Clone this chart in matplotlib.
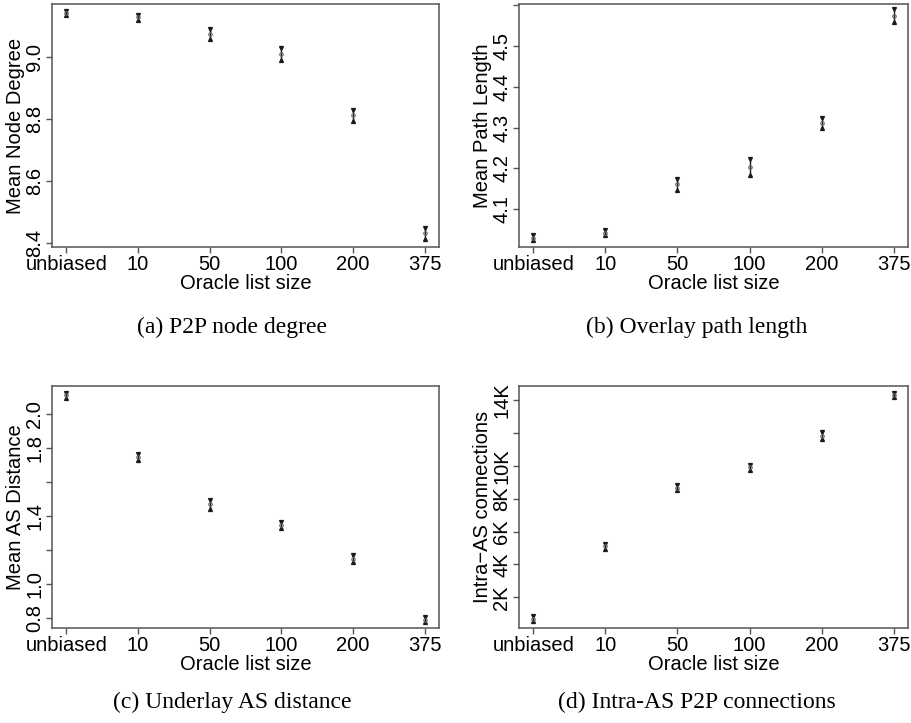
import matplotlib
matplotlib.use("Agg")
import matplotlib.pyplot as plt

plt.rcParams['font.family'] = ['Liberation Sans', 'DejaVu Sans']

x_labels = ['unbiased', '10', '50', '100', '200', '375']

degree_mean = [9.139, 9.126, 9.073, 9.008, 8.811, 8.432]
degree_err = [0.006, 0.009, 0.015, 0.018, 0.018, 0.018]

path_mean = [4.030, 4.043, 4.161, 4.204, 4.312, 4.574]
path_err = [0.006, 0.007, 0.014, 0.020, 0.012, 0.016]

asdist_mean = [2.112, 1.748, 1.469, 1.349, 1.148, 0.789]
asdist_err = [0.016, 0.016, 0.027, 0.018, 0.020, 0.012]

intra_mean = [702, 5107, 8659, 9900, 11826, 14306]
intra_err = [150, 150, 160, 150, 200, 150]

degree_ticks = [8.4, 8.6, 8.8, 9.0]
degree_ticklabels = ['8.4', '8.6', '8.8', '9.0']
path_ticks = [4.1, 4.2, 4.3, 4.4, 4.5, 4.6]
path_ticklabels = ['4.1', '4.2', '4.3', '4.4', '4.5', '']
asdist_ticks = [0.8, 1.0, 1.2, 1.4, 1.6, 1.8, 2.0]
asdist_ticklabels = ['0.8', '1.0', '', '1.4', '', '1.8', '2.0']
intra_ticks = [2000, 4000, 6000, 8000, 10000, 12000, 14000]
intra_ticklabels = ['2K', '4K', '6K', '8K', '10K', '', '14K']

captions = ['(a) P2P node degree', '(b) Overlay path length',
            '(c) Underlay AS distance', '(d) Intra-AS P2P connections']

FS = 14.5
frame = '#555555'
ink = '#1a1a1a'


def panel(ax, mean, err, ylabel, ticks, ticklabels, ylim):
    x = list(range(len(mean)))
    lo = [m - e for m, e in zip(mean, err)]
    hi = [m + e for m, e in zip(mean, err)]
    ax.vlines(x, lo, hi, color=ink, lw=1)
    ax.plot(x, hi, 'v', color=ink, ms=2.8, ls='none')
    ax.plot(x, lo, '^', color=ink, ms=2.8, ls='none')
    ax.plot(x, mean, 'o', mfc='none', mec='#666666', ms=2.5, mew=0.8, ls='none')

    ax.set_xlim(-0.2, 5.2)
    ax.set_ylim(*ylim)
    ax.set_xticks(x)
    ax.set_xticklabels(x_labels, fontsize=FS)
    ax.set_yticks(ticks)
    ax.set_yticklabels(ticklabels, fontsize=FS, rotation=90, va='center')
    ax.set_xlabel('Oracle list size', fontsize=FS, labelpad=0)
    ax.set_ylabel(ylabel, fontsize=FS, labelpad=0)
    ax.tick_params(length=4.5, width=1, color=frame, pad=1)
    for s in ax.spines.values():
        s.set_color(frame)
        s.set_linewidth(1.1)


fig = plt.figure(figsize=(9.12, 7.23), dpi=100)

W, H = 912.0, 723.0
ax_a = fig.add_axes([52 / W, 1 - 247 / H, 387 / W, 243 / H])
ax_b = fig.add_axes([519 / W, 1 - 247 / H, 389 / W, 243 / H])
ax_c = fig.add_axes([52 / W, 1 - 628 / H, 387 / W, 242 / H])
ax_d = fig.add_axes([519 / W, 1 - 628 / H, 389 / W, 242 / H])

panel(ax_a, degree_mean, degree_err, 'Mean Node Degree',
      degree_ticks, degree_ticklabels, (8.388, 9.169))
panel(ax_b, path_mean, path_err, 'Mean Path Length',
      path_ticks, path_ticklabels, (4.0075, 4.603))
panel(ax_c, asdist_mean, asdist_err, 'Mean AS Distance',
      asdist_ticks, asdist_ticklabels, (0.739, 2.167))
panel(ax_d, intra_mean, intra_err, 'Intra\u2212AS connections',
      intra_ticks, intra_ticklabels, (130, 14854))

cap_pos = [(232, 327), (697, 327), (232, 702), (697, 702)]
for (cx, cy), txt in zip(cap_pos, captions):
    fig.text(cx / W, 1 - cy / H, txt, ha='center', va='center',
             fontsize=17, family='Liberation Serif')

fig.savefig('out.png', dpi=100)
